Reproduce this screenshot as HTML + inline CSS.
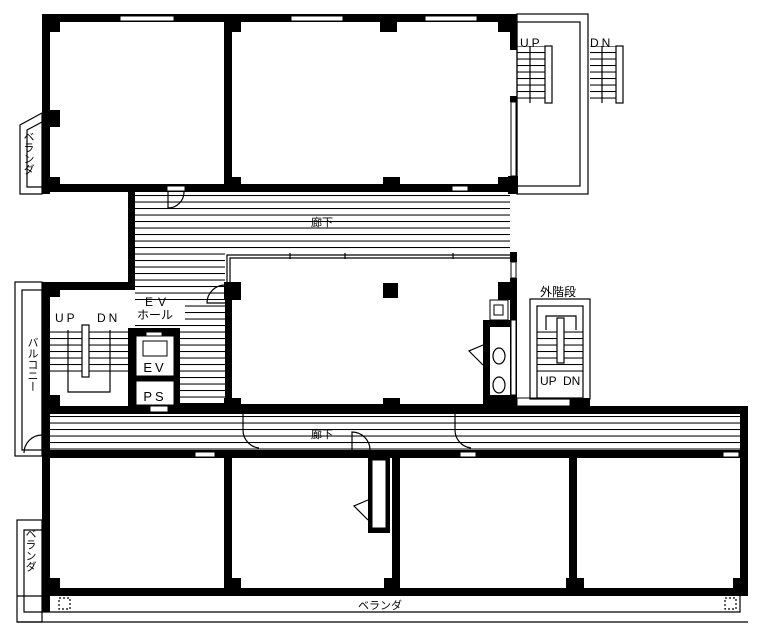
<!DOCTYPE html>
<html><head><meta charset="utf-8"><style>
html,body{margin:0;padding:0;background:#fff;}
svg{display:block;}
text{font-family:"Liberation Sans","Noto Sans CJK JP",sans-serif;fill:#000;}
</style></head><body>
<svg width="762" height="636" viewBox="0 0 762 636" xmlns="http://www.w3.org/2000/svg">
<defs>
<pattern id="h" width="10" height="6.5" patternUnits="userSpaceOnUse">
<rect width="10" height="6.5" fill="#fff"/><line x1="0" y1="0.5" x2="10" y2="0.5" stroke="#000" stroke-width="1.1"/>
</pattern>
</defs>
<!-- hatched corridors -->
<rect x="135" y="194" width="375" height="58" fill="url(#h)"/>
<rect x="135" y="252" width="90" height="160" fill="url(#h)"/>
<rect x="50" y="414" width="690" height="37" fill="url(#h)"/>
<rect x="50" y="330" width="78" height="45" fill="url(#h)"/>
<rect x="180" y="330" width="45" height="82" fill="url(#h)"/>
<rect x="537" y="330" width="46" height="45" fill="url(#h)"/>
<rect x="517" y="46" width="30" height="56" fill="url(#h)"/>
<rect x="590" y="46" width="28" height="56" fill="url(#h)"/>
<rect x="135" y="300" width="50" height="22" fill="#fff"/>

<g fill="#000">
<rect x="42" y="14" width="475" height="8"/>
<rect x="42" y="14" width="8" height="180"/>
<rect x="42" y="184" width="475" height="8"/>
<rect x="224" y="14" width="8" height="178"/>
<rect x="510" y="14" width="7" height="36"/>
<rect x="510" y="96" width="7" height="6"/>
<rect x="508" y="176" width="10" height="18"/>
<rect x="42" y="110" width="18" height="17"/>
<rect x="42" y="177" width="18" height="15"/>
<rect x="42" y="14" width="18" height="18"/>
<rect x="224" y="14" width="17" height="18"/>
<rect x="224" y="177" width="17" height="15"/>
<rect x="383" y="177" width="17" height="15"/>
<rect x="380" y="14" width="17" height="18"/>
<rect x="498" y="14" width="19" height="18"/>
<rect x="498" y="177" width="19" height="15"/>
<rect x="128" y="192" width="7" height="98"/>
<rect x="224" y="282" width="17" height="18"/>
<rect x="225" y="300" width="7" height="112"/>
<rect x="224" y="398" width="17" height="16"/>
<rect x="225" y="404" width="292" height="8"/>
<rect x="383" y="283" width="15" height="15"/>
<rect x="383" y="398" width="17" height="14"/>
<rect x="510" y="252" width="7" height="10"/>
<rect x="510" y="278" width="7" height="134"/>
<rect x="498" y="282" width="19" height="18"/>
<rect x="42" y="282" width="93" height="8"/>
<rect x="42" y="282" width="8" height="330"/>
<rect x="42" y="282" width="18" height="15"/>
<rect x="42" y="395" width="18" height="17"/>
<rect x="42" y="406" width="140" height="8"/>
<rect x="128" y="328" width="52" height="86"/>
<rect x="180" y="404" width="45" height="8" />
<!-- WC -->
<rect x="483" y="320" width="34" height="7"/>
<rect x="483" y="320" width="7" height="92"/>
<rect x="490" y="395" width="27" height="17"/>
<rect x="570" y="398" width="20" height="16"/>
<rect x="50" y="406" width="698" height="8" />
<rect x="740" y="406" width="8" height="190"/>
<rect x="42" y="450" width="706" height="8"/>
<rect x="224" y="458" width="8" height="138"/>
<rect x="368" y="455" width="22" height="78"/>
<rect x="392" y="455" width="8" height="141"/>
<rect x="569" y="458" width="8" height="138"/>
<rect x="42" y="588" width="706" height="8"/>
<rect x="42" y="578" width="18" height="18"/>
<rect x="224" y="578" width="17" height="18"/>
<rect x="384" y="578" width="16" height="18"/>
<rect x="566" y="578" width="18" height="18"/>
<rect x="733" y="578" width="15" height="18"/>
</g>
<g fill="#fff" stroke="#000" stroke-width="1">
<rect x="120" y="16" width="54" height="5"/>
<rect x="291" y="16" width="52" height="5"/>
<rect x="425" y="16" width="52" height="5"/>
<rect x="452" y="186" width="16" height="5"/>
<rect x="167" y="186" width="18" height="5"/>
<rect x="511" y="102" width="5" height="74"/>
<rect x="511" y="262" width="5" height="16"/>
<rect x="511" y="320" width="5" height="75"/>
<rect x="136" y="336" width="38" height="40"/>
<rect x="136" y="381" width="38" height="24"/>
<rect x="146" y="332" width="16" height="4"/>
<rect x="150" y="406" width="18" height="6"/>
<rect x="490" y="300" width="18" height="20"/>
<rect x="494" y="305" width="9" height="10"/>
<rect x="372" y="460" width="14" height="68"/>
<rect x="195" y="452" width="20" height="5"/>
<rect x="460" y="452" width="16" height="5"/>
<rect x="723" y="452" width="16" height="5"/>
<rect x="517" y="398" width="53" height="8"/>
<rect x="143" y="341" width="24" height="15"/>
</g>
<text x="155" y="372" font-size="13" text-anchor="middle" letter-spacing="3">EV</text>
<text x="155" y="401" font-size="13" text-anchor="middle" letter-spacing="3">PS</text>
<g fill="none" stroke="#000" stroke-width="1.2">
<polyline points="227,282 227,255 510,255"/>
<polyline points="230,282 230,258 510,258"/>
<line x1="290" y1="253" x2="290" y2="259"/><line x1="345" y1="253" x2="345" y2="259"/><line x1="453" y1="253" x2="453" y2="259"/>
<rect x="517" y="14" width="71" height="180"/>
<rect x="517" y="22" width="63" height="164"/>
<rect x="545" y="46" width="7" height="57" fill="#fff"/>
<rect x="616" y="46" width="7" height="57" fill="#fff"/>
<line x1="530" y1="46" x2="530" y2="103"/><line x1="602" y1="46" x2="602" y2="103"/>
<polygon points="42,113 20,125 20,194 42,194"/>
<polyline points="42,122 27,130 27,187 42,187"/>
<rect x="15" y="282" width="27" height="174"/>
<rect x="22" y="290" width="20" height="160"/>
<rect x="82" y="325" width="7" height="52" fill="#fff"/>
<polyline points="68,330 68,392 110,392 110,330"/>
<!-- toilets -->
<ellipse cx="499" cy="356" rx="6" ry="8"/>
<ellipse cx="499" cy="385" rx="6" ry="8"/>
<!-- ext stairs -->
<rect x="530" y="299" width="60" height="100"/>
<rect x="537" y="306" width="46" height="92"/>
<polyline points="546,330 546,316 576,316 576,330"/>
<rect x="557" y="318" width="7" height="45" fill="#fff"/>
<rect x="17" y="520" width="25" height="102"/>
<polyline points="42,530 24,530 24,612 740,612 740,596"/>
<line x1="17" y1="622" x2="748" y2="622"/>
<line x1="17" y1="596" x2="42" y2="596"/>
<rect x="59" y="598" width="11" height="11" stroke-dasharray="2,2"/>
<rect x="725" y="598" width="11" height="11" stroke-dasharray="2,2"/>
<line x1="50" y1="590" x2="740" y2="590"/>
<path d="M168,192 v16 a16,16 0 0 0 16,-16"/>
<path d="M225,303 h-18 a18,18 0 0 1 18,-18"/>
<path d="M243,412 v18 a18,18 0 0 0 16,18"/>
<path d="M455,412 v18 a18,18 0 0 0 16,18"/>
<path d="M352,450 v-18 a18,18 0 0 1 18,18"/>
<path d="M42,435 a18,18 0 0 0 -18,18"/>
<path d="M483,345 l-14,6 l14,14"/>
<path d="M368,500 l-14,6 l14,14"/>
</g>
<g font-size="11">
<text x="520" y="47" font-size="12" letter-spacing="3">UP</text>
<text x="590" y="47" font-size="12" letter-spacing="3">DN</text>
<text x="55" y="322" font-size="12" letter-spacing="3">UP</text>
<text x="97" y="322" font-size="12" letter-spacing="3">DN</text>
<text x="145" y="306" font-size="12" letter-spacing="5">EV</text>
<text x="137" y="319" font-size="12">ホール</text>
<text x="540" y="385" font-size="12">UP</text>
<text x="563" y="385" font-size="12">DN</text>
<text x="540" y="296" font-size="12">外階段</text>
<text x="322" y="226" text-anchor="middle">廊下</text>
<text x="322" y="438" text-anchor="middle">廊下</text>
<text x="380" y="609" text-anchor="middle">ベランダ</text>
<text x="28" y="131" writing-mode="tb" font-size="11">ベランダ</text>
<text x="30" y="528" writing-mode="tb" font-size="11">ベランダ</text>
<text x="32" y="337" writing-mode="tb" font-size="11">バルコニー</text>
</g>
</svg>
</body></html>
